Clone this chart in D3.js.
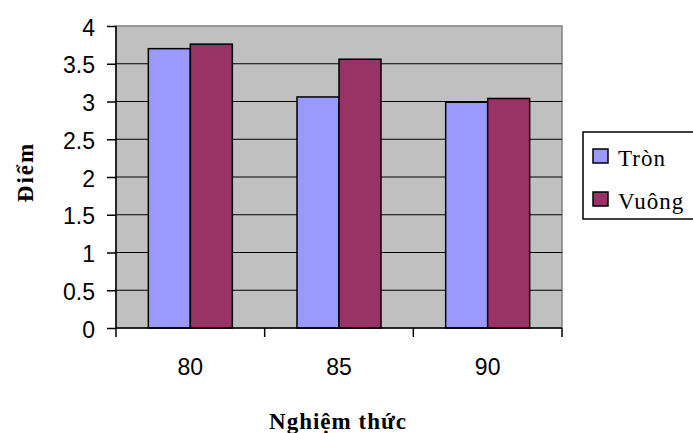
<!DOCTYPE html>
<html>
<head>
<meta charset="utf-8">
<script src="https://cdn.jsdelivr.net/npm/d3@7"></script>
<style>
  body { margin: 0; background: #fff; }
</style>
</head>
<body>
<div id="chart"></div>
<script>
// data
var groups = ['80', '85', '90']
var seriesNames = ['Tròn', 'Vuông']
var tronValues = [3.70, 3.06, 2.99]
var vuongValues = [3.76, 3.56, 3.04]
var yTicks = [0, 0.5, 1, 1.5, 2, 2.5, 3, 3.5, 4]

var colors = ['#9999ff', '#993366']

var W = 693, H = 433
var plot = { left: 116, top: 26, right: 562, bottom: 328 }
var sans = 'Liberation Sans, Arial, sans-serif'
var serif = 'Liberation Serif, Times New Roman, serif'

var svg = d3.select('#chart').append('svg')
    .attr('width', W)
    .attr('height', H)

// scales
var x = d3.scaleBand()
    .domain(groups)
    .range([plot.left, plot.right])
    .padding(0)
var xSub = d3.scaleBand()
    .domain(seriesNames)
    .range([0, x.bandwidth()])
    .paddingInner(0)
    .paddingOuter(0.77)
var y = d3.scaleLinear()
    .domain([0, 4])
    .range([plot.bottom, plot.top])

// plot background
svg.append('rect')
    .attr('x', plot.left).attr('y', plot.top)
    .attr('width', plot.right - plot.left)
    .attr('height', plot.bottom - plot.top)
    .attr('fill', '#c0c0c0')
    .attr('stroke', '#808080')
    .attr('stroke-width', 1.5)

// gridlines
svg.append('g')
    .selectAll('line')
    .data(yTicks.filter(function (d) { return d > 0 && d < 4 }))
    .enter().append('line')
    .attr('x1', plot.left).attr('x2', plot.right)
    .attr('y1', function (d) { return y(d) }).attr('y2', function (d) { return y(d) })
    .attr('stroke', '#000').attr('stroke-width', 1.2)

// bars
var rows = groups.map(function (g, i) {
    return { group: g, values: [tronValues[i], vuongValues[i]] }
})
svg.append('g')
    .selectAll('g')
    .data(rows)
    .enter().append('g')
    .attr('transform', function (d) { return 'translate(' + x(d.group) + ',0)' })
    .selectAll('rect')
    .data(function (d) { return d.values.map(function (v, j) { return { key: seriesNames[j], value: v, idx: j } }) })
    .enter().append('rect')
    .attr('x', function (d) { return xSub(d.key) })
    .attr('y', function (d) { return y(d.value) })
    .attr('width', xSub.bandwidth())
    .attr('height', function (d) { return y(0) - y(d.value) })
    .attr('fill', function (d) { return colors[d.idx] })
    .attr('stroke', '#000')
    .attr('stroke-width', 1.5)

// y axis
var yAxis = svg.append('g')
    .attr('transform', 'translate(' + plot.left + ',0)')
    .call(d3.axisLeft(y).tickValues(yTicks).tickSize(9).tickPadding(12)
        .tickFormat(function (d) { return String(d) }))
yAxis.selectAll('text')
    .style('font-family', sans)
    .style('font-size', '23px')
    .attr('fill', '#000')
    .attr('dy', '0.4em')
yAxis.selectAll('line,path').attr('stroke', '#000').attr('stroke-width', 1.5)
yAxis.select('path').attr('d', 'M0,' + plot.top + 'V' + plot.bottom)

// x axis: ticks on the band edges
var xAxis = svg.append('g')
    .attr('transform', 'translate(0,' + plot.bottom + ')')
xAxis.append('line')
    .attr('x1', plot.left).attr('x2', plot.right)
    .attr('stroke', '#000').attr('stroke-width', 1.5)
var edges = groups.map(function (g) { return x(g) }).concat([plot.right])
xAxis.selectAll('.tk')
    .data(edges)
    .enter().append('line')
    .attr('class', 'tk')
    .attr('x1', function (d) { return d }).attr('x2', function (d) { return d })
    .attr('y1', 0).attr('y2', 9)
    .attr('stroke', '#000').attr('stroke-width', 1.5)
xAxis.selectAll('text')
    .data(groups)
    .enter().append('text')
    .attr('x', function (d) { return x(d) + x.bandwidth() / 2 })
    .attr('y', 47)
    .attr('text-anchor', 'middle')
    .style('font-family', sans)
    .style('font-size', '23px')
    .text(function (d) { return d })

// axis titles
svg.append('text')
    .attr('transform', 'translate(33,172) rotate(-90)')
    .attr('text-anchor', 'middle')
    .style('font-family', serif)
    .style('font-weight', 'bold')
    .style('font-size', '23px')
    .style('letter-spacing', '2px')
    .text('Điểm')
svg.append('text')
    .attr('x', 338).attr('y', 429)
    .attr('text-anchor', 'middle')
    .style('font-family', serif)
    .style('font-weight', 'bold')
    .style('font-size', '23px')
    .style('letter-spacing', '1px')
    .text('Nghiệm thức')

// legend
svg.append('rect')
    .attr('x', 583).attr('y', 132)
    .attr('width', 130).attr('height', 87)
    .attr('fill', '#fff')
    .attr('stroke', '#000')
    .attr('stroke-width', 1.5)
seriesNames.forEach(function (e, i) {
    svg.append('rect')
        .attr('x', 593).attr('y', 149 + i * 43)
        .attr('width', 15).attr('height', 14)
        .attr('fill', colors[i])
        .attr('stroke', '#000').attr('stroke-width', 1.5)
    svg.append('text')
        .attr('x', 618).attr('y', 166 + i * 43)
        .style('font-family', serif)
        .style('font-size', '23px')
        .style('letter-spacing', '1px')
        .text(e)
})
</script>
</body>
</html>
